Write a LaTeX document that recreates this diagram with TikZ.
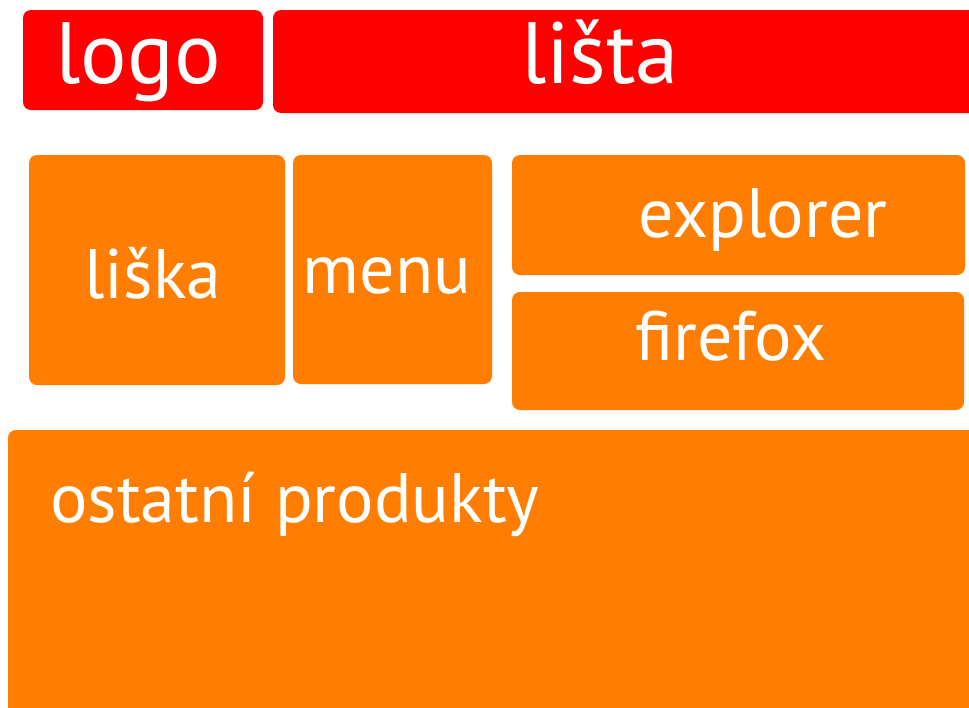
\documentclass[tikz,border=0pt]{standalone}
\usepackage{fontspec}
\setmainfont{PT Sans}
\definecolor{barred}{RGB}{255,0,0}
\definecolor{tileorange}{RGB}{255,125,0}
\tikzset{
  tile/.style={fill=#1, draw=none, rounded corners=8pt, inner sep=0pt, outer sep=0pt},
  bigtxt/.style={text=white, anchor=base, inner sep=0pt, font=\fontsize{87}{89}\selectfont},
  midtxt/.style={text=white, anchor=base, inner sep=0pt, font=\fontsize{70}{72}\selectfont},
}
\begin{document}
\begin{tikzpicture}[x=1pt,y=-1pt]
\useasboundingbox (0,0) rectangle (969,707);
\clip (0,0) rectangle (969,707);
\fill[white] (0,0) rectangle (969,707);
\node[tile=barred, minimum width=240pt, minimum height=100pt] (logo) at (143,60) {};
\node[tile=barred, minimum width=712pt, minimum height=103pt] (lista) at (629,61.5) {};
\node[tile=tileorange, minimum width=256pt, minimum height=230pt] (liska) at (157,270) {};
\node[tile=tileorange, minimum width=199pt, minimum height=229pt] (menu) at (392.5,269.5) {};
\node[tile=tileorange, minimum width=453pt, minimum height=120pt] (explorer) at (738.5,215) {};
\node[tile=tileorange, minimum width=452pt, minimum height=118pt] (firefox) at (738,351) {};
\node[tile=tileorange, minimum width=982pt, minimum height=300pt] (ostatni) at (499,580) {};
\node[bigtxt] (tlogo) at (138,83) {logo};
\node[bigtxt] (tlista) at (600,83) {lišta};
\node[midtxt] (tliska) at (153,298) {liška};
\node[midtxt] (tmenu) at (387,293) {menu};
\node[midtxt] (texplorer) at (763,237) {explorer};
\node[midtxt] (tfirefox) at (731,360) {firefox};
\node[midtxt, anchor=base west] (tostatni) at (50,522) {ostatní produkty};
\end{tikzpicture}
\end{document}
